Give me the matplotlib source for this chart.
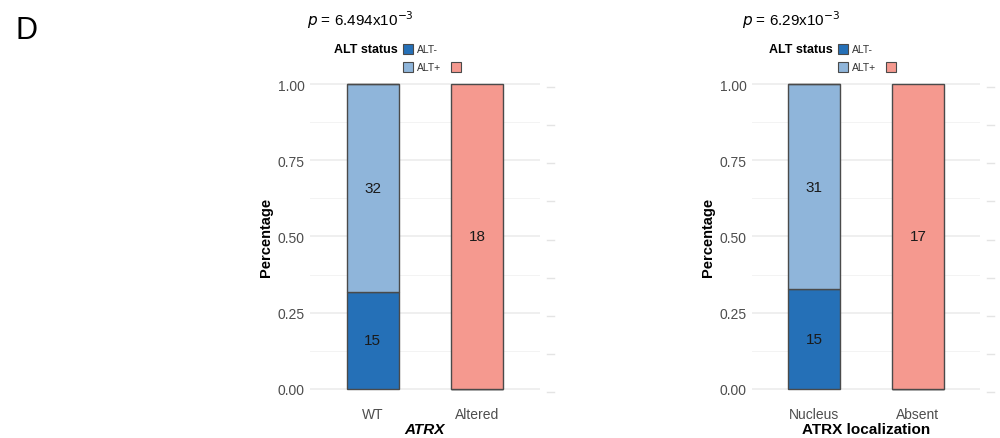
import matplotlib.pyplot as plt
from matplotlib.patches import Rectangle
from matplotlib.transforms import blended_transform_factory

plt.rcParams['font.family'] = ['Liberation Sans', 'DejaVu Sans']

# counts per panel: ALT- / ALT+ for the first group, total for the second group
left_groups = ['WT', 'Altered']
left_alt_neg = [15, 0]
left_alt_pos = [32, 0]
left_other = [0, 18]
left_title = r'$\it{p}$ = 6.494x10$^{-3}$'
left_xlabel = 'ATRX'

right_groups = ['Nucleus', 'Absent']
right_alt_neg = [15, 0]
right_alt_pos = [31, 0]
right_other = [0, 17]
right_title = r'$\it{p}$ = 6.29x10$^{-3}$'
right_xlabel = 'ATRX localization'

yticks = [0.0, 0.25, 0.5, 0.75, 1.0]

c_neg = '#2570b7'
c_pos = '#8fb5da'
c_pink = '#f5998f'
edge = '#4a4a4a'
grid_c = '#ebebeb'


def draw_panel(ax, groups, neg, pos, other, xlabel, italic):
    x = [1, 2]
    tot = [n + p + o for n, p, o in zip(neg, pos, other)]
    fneg = [n / t for n, t in zip(neg, tot)]
    fpos = [p / t for p, t in zip(pos, tot)]
    foth = [o / t for o, t in zip(other, tot)]
    ax.bar(x, fneg, width=0.5, color=c_neg, edgecolor=edge, linewidth=1.0, zorder=3)
    ax.bar(x, fpos, width=0.5, bottom=fneg, color=c_pos, edgecolor=edge, linewidth=1.0, zorder=3)
    ax.bar(x, foth, width=0.5, bottom=[a + b for a, b in zip(fneg, fpos)],
           color=c_pink, edgecolor=edge, linewidth=1.0, zorder=3)
    for xi, n, p, o, a, b, c in zip(x, neg, pos, other, fneg, fpos, foth):
        if n:
            ax.text(xi, a / 2, str(n), ha='center', va='center', fontsize=11, color='#1a1a1a', zorder=4)
        if p:
            ax.text(xi, a + b / 2, str(p), ha='center', va='center', fontsize=11, color='#1a1a1a', zorder=4)
        if o:
            ax.text(xi, a + b + c / 2, str(o), ha='center', va='center', fontsize=11, color='#1a1a1a', zorder=4)

    ax.set_xlim(0.4, 2.6)
    ax.set_ylim(-0.05, 1.05)
    ax.set_xticks(x)
    ax.set_xticklabels(groups)
    ax.set_yticks(yticks)
    ax.set_yticklabels(['%.2f' % v for v in yticks])
    ax.set_yticks([0.125, 0.375, 0.625, 0.875], minor=True)
    ax.tick_params(axis='both', which='both', length=0, labelsize=10, labelcolor='#4d4d4d', pad=4)
    ax.tick_params(axis='x', pad=2)
    ax.grid(axis='y', which='major', color=grid_c, linewidth=1.1, zorder=0)
    ax.grid(axis='y', which='minor', color='#f3f3f3', linewidth=0.7, zorder=0)
    for s in ax.spines.values():
        s.set_visible(False)
    ax.set_ylabel('Percentage', fontsize=10.5, fontweight='bold', labelpad=3)
    ax.set_xlabel(xlabel, fontsize=11, fontweight='bold', style='italic' if italic else 'normal', labelpad=1)

    # faint offset grid segments to the right of the panel
    tr = blended_transform_factory(ax.transAxes, ax.transData)
    for v in [0.0, 0.125, 0.25, 0.375, 0.5, 0.625, 0.75, 0.875, 1.0]:
        ax.plot([1.03, 1.06], [v - 0.01, v - 0.01], transform=tr, color='#e4e4e4',
                linewidth=1.0, clip_on=False)


def draw_legend(fig, x0, y_top, title, pink_gap):
    W, H = 1000.0, 439.0
    fig.text(x0 / W, 1 - y_top / H, title, fontsize=11, ha='left', va='center')
    ly1 = 50
    ly2 = 68
    fig.text((x0 + 91) / W, 1 - ly1 / H, 'ALT status', fontsize=9, fontweight='bold',
             ha='right', va='center')
    bx = x0 + 96
    sz = 10
    for (yy, col, lab) in [(ly1, c_neg, 'ALT-'), (ly2, c_pos, 'ALT+')]:
        fig.patches.append(Rectangle((bx / W, 1 - (yy + sz / 2) / H), sz / W, sz / H,
                                     transform=fig.transFigure, facecolor=col,
                                     edgecolor=edge, linewidth=0.8))
        fig.text((bx + sz + 4) / W, 1 - yy / H, lab, fontsize=7.5, color='#333333',
                 ha='left', va='center')
    px = bx + pink_gap
    fig.patches.append(Rectangle((px / W, 1 - (ly2 + sz / 2) / H), sz / W, sz / H,
                                 transform=fig.transFigure, facecolor=c_pink,
                                 edgecolor=edge, linewidth=0.8))


fig = plt.figure(figsize=(10, 4.39), dpi=100)
W, H = 1000.0, 439.0
ax1 = fig.add_axes([310 / W, (H - 405) / H, 230 / W, 335 / H])
ax2 = fig.add_axes([752 / W, (H - 405) / H, 228 / W, 335 / H])

draw_panel(ax1, left_groups, left_alt_neg, left_alt_pos, left_other, left_xlabel, True)
draw_panel(ax2, right_groups, right_alt_neg, right_alt_pos, right_other, right_xlabel, False)

draw_legend(fig, 307, 20, left_title, 48)
draw_legend(fig, 742, 20, right_title, 48)

fig.text(15 / W, 1 - 31 / H, 'D', fontsize=22, ha='left', va='center')

fig.savefig('out.png', dpi=100)
